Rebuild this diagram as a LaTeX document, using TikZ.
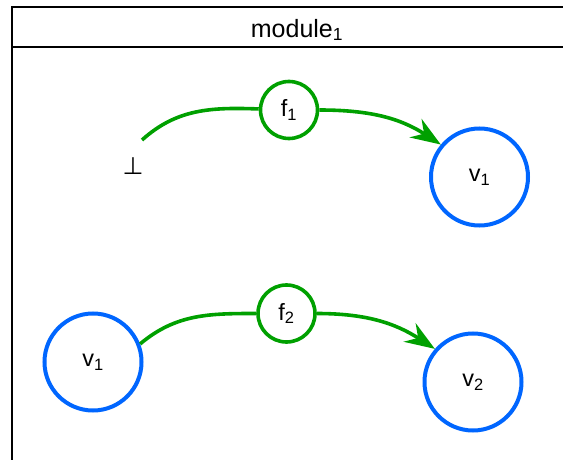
\documentclass[tikz,border=0pt]{standalone}
\usepackage{fontspec}
\setmainfont{Liberation Sans}
\newfontfamily\symfont{DejaVu Sans}
\usetikzlibrary{arrows.meta}
\definecolor{fgreen}{RGB}{0,160,0}
\definecolor{vblue}{RGB}{0,102,255}
\tikzset{
  fnode/.style={circle, draw=fgreen, line width=3.6pt, minimum size=57pt, inner sep=0pt, font=\fontsize{23.5}{28}\selectfont},
  vnode/.style={circle, draw=vblue, line width=4pt, minimum size=97pt, inner sep=0pt, font=\fontsize{23.5}{28}\selectfont},
  flow/.style={draw=fgreen, line width=3.6pt},
  flowarrow/.style={flow, -{Stealth[length=30pt, width=22pt, inset=10pt]}},
  frameline/.style={draw=black, line width=2.4pt}
}
\begin{document}
\begin{tikzpicture}[x=1pt, y=1pt]
\useasboundingbox (0,0) rectangle (563,459);
\clip (0,0) rectangle (563,459);
% module frame
\draw[frameline] (12,412) rectangle (620,452);
\draw[frameline] (12,412) -- (12,-50);
\node (title) at (297,429) {\fontsize{25}{30}\selectfont module\textsubscript{1}};
% top row
\node (bot) at (133,293) {\symfont\fontsize{24}{28}\selectfont ⊥};
\coordinate (bs) at (142,319);
\node[fnode] (f1) at (289,349) {f\textsubscript{1}};
\node[vnode] (v1t) at (479.5,282) {v\textsubscript{1}};
\draw[flow] (bs) to[out=42, in=178] (f1.178);
\draw[flowarrow] (f1.east) to[out=0, in=147] (v1t.140);
% bottom row
\node[vnode] (v1b) at (93,97) {v\textsubscript{1}};
\node[fnode] (f2) at (286.5,145.5) {f\textsubscript{2}};
\node[vnode] (v2) at (473,77) {v\textsubscript{2}};
\draw[flow] (v1b.21) to[out=40, in=180] (f2.west);
\draw[flowarrow] (f2.east) to[out=0, in=147] (v2.139);
\end{tikzpicture}
\end{document}
